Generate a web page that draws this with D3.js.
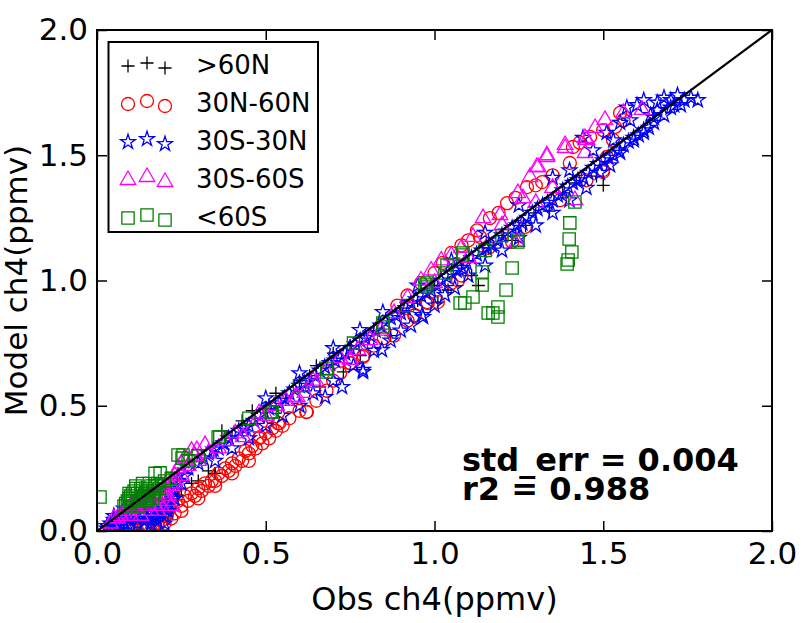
<!DOCTYPE html>
<html><head><meta charset="utf-8">
<script src="https://cdnjs.cloudflare.com/ajax/libs/d3/7.8.5/d3.min.js"></script>
<style>body{margin:0;background:#fff}svg{display:block;font-family:"DejaVu Sans",sans-serif}</style>
</head><body><svg id="c" width="807" height="623"></svg>
<script>
const tickValues = [0.0, 0.5, 1.0, 1.5, 2.0];
const tickLabels = ["0.0", "0.5", "1.0", "1.5", "2.0"];
const seriesNames = [">60N", "30N-60N", "30S-30N", "30S-60S", "<60S"];
const seriesColors = ["#000000", "#ff0000", "#0000ff", "#ff00ff", "#008000"];
const xLabel = "Obs ch4(ppmv)";
const yLabel = "Model ch4(ppmv)";
const statLines = ["std_err = 0.004", "r2 = 0.988"];

// >60N
const n60Obs = [0.05,0.08,0.1,0.12,0.15,0.18,0.2,0.22,0.24,0.25,0.28,0.3,0.33,0.35,0.37,0.4,0.43,0.46,0.5,0.53,0.56,0.6,0.63,0.65,0.66,0.7,0.73,0.75,0.78,0.82,0.87,0.9,0.95,1.0,1.01,1.04,1.08,1.11,1.13,1.16,1.2,1.23,1.27,1.3,1.34,1.38,1.42,1.48,1.5,0.237,0.35];
const n60Mod = [0.05,0.07,0.1,0.13,0.13,0.1,0.12,0.14,0.14,0.17,0.19,0.2,0.24,0.23,0.4,0.37,0.44,0.48,0.49,0.55,0.53,0.6,0.62,0.66,0.575,0.71,0.635,0.74,0.7,0.8,0.78,0.89,0.92,0.98,0.914,0.962,1.06,1.02,0.98,1.13,1.18,1.16,1.22,1.27,1.277,1.35,1.39,1.417,1.38,0.144,0.23];

// 30N-60N
const n30Obs = [0.03,0.05,0.07,0.09,0.11,0.13,0.15,0.17,0.19,0.2,0.21,0.22,0.24,0.26,0.28,0.3,0.32,0.34,0.36,0.38,0.4,0.42,0.44,0.46,0.48,0.5,0.52,0.54,0.57,0.6,0.62,0.65,0.68,0.7,0.72,0.75,0.79,0.82,0.85,0.88,0.92,0.94,0.98,1.01,1.05,1.08,
  0.25,0.27,0.29,0.31,0.33,0.35,0.37,0.39,0.41,0.43,0.45,0.47,0.49,0.51,0.53,0.55,0.207,0.18,
  0.04,0.06,0.08,0.1,0.12,0.14,0.16,0.18,0.2,0.22,0.23,0.25,0.3,0.35,0.4,0.45,
  0.89,0.92,0.96,1.0,1.025,1.05,1.08,1.1,1.126,1.164,1.19,1.215,1.24,1.274,1.3,1.319,1.35,1.401,1.41,1.43,1.461,1.5,1.535,1.55,1.56,
  1.135,1.23,1.268,1.372,1.499,1.5,1.511,1.529,1.16,1.45,1.07,0.978,0.942,0.788,0.75,0.536,0.483,0.622];
const n30Mod = [0.01,0.01,0.02,0.01,0.02,0.01,0.02,0.03,0.04,0.06,0.08,0.1,0.12,0.14,0.15,0.17,0.19,0.2,0.23,0.25,0.27,0.29,0.32,0.34,0.37,0.39,0.41,0.43,0.45,0.48,0.475,0.52,0.56,0.6,0.63,0.67,0.7,0.74,0.77,0.78,0.84,0.86,0.91,0.914,0.99,1.02,
  0.1,0.12,0.14,0.16,0.18,0.2,0.22,0.24,0.26,0.28,0.31,0.33,0.35,0.37,0.4,0.42,0.064,0.03,
  0.0,0.02,0.0,0.02,0.0,0.02,0.0,0.02,0.03,0.05,0.07,0.08,0.13,0.18,0.23,0.28,
  0.9,0.94,0.99,1.03,1.07,1.11,1.14,1.16,1.2,1.249,1.27,1.309,1.33,1.373,1.38,1.393,1.42,1.469,1.533,1.55,1.573,1.6,1.613,1.669,1.64,
  1.174,1.154,1.214,1.321,1.433,1.441,1.493,1.561,1.13,1.4,1.0,0.914,0.862,0.695,0.67,0.43,0.375,0.475];

// 30S-30N
const eqObs = [0.03,0.06,0.09,0.12,0.15,0.18,0.21,0.24,0.27,0.3,0.33,0.36,0.39,0.42,0.45,0.48,0.51,0.54,0.57,0.6,0.63,0.66,0.69,0.72,0.75,0.78,0.81,0.84,0.87,0.9,0.93,0.96,0.99,1.02,1.05,1.08,1.11,1.14,1.17,1.2,1.23,1.26,1.29,1.32,1.35,1.38,1.41,1.44,1.47,1.5,1.53,1.56,1.59,1.62,1.65,1.68,1.71,
  0.315,0.345,0.375,0.405,0.435,0.465,0.495,0.525,0.555,0.585,0.615,0.645,0.675,0.705,0.735,0.765,0.795,0.825,0.855,0.885,0.915,0.945,0.975,1.005,1.035,1.065,1.095,1.125,1.155,1.185,1.215,1.245,1.275,1.305,1.335,1.365,1.395,1.425,1.455,1.485,1.515,1.545,1.575,1.605,1.635,
  0.04,0.05,0.07,0.08,0.1,0.1,0.12,0.13,0.14,0.15,0.16,0.17,0.18,0.19,0.2,0.21,0.22,0.23,0.25,0.08,0.06,0.12,0.16,0.18,0.2,
  0.03,0.05,0.07,0.09,0.11,0.13,0.15,0.17,0.19,0.21,0.23,0.05,0.07,0.09,0.11,0.13,0.15,0.17,0.19,0.21,0.06,0.1,0.14,0.18,0.22,0.24,0.26,0.2,0.16,0.12,
  0.35,0.4,0.45,0.5,0.55,0.6,0.64,0.676,0.7,0.726,0.76,0.788,0.788,0.82,0.844,0.87,0.9,0.93,0.963,0.966,1.0,1.031,1.06,1.1,1.15,1.2,1.25,1.3,1.35,1.4,1.45,1.49,1.52,1.55,1.59,1.62,1.65,
  0.779,0.847,0.7,0.6,0.5,0.95,1.05,1.15,1.25,1.35,1.4,1.44,1.47,1.51,1.55,1.57,1.6,1.62,1.66,1.68,1.7,1.72,1.74,1.76,1.78,1.7,1.73,1.66,1.64,1.58,1.53];
const eqMod = [0.02,0.04,0.07,0.1,0.13,0.16,0.18,0.22,0.25,0.27,0.31,0.33,0.37,0.4,0.42,0.46,0.49,0.51,0.55,0.58,0.6,0.64,0.67,0.69,0.73,0.76,0.78,0.82,0.85,0.87,0.91,0.94,0.96,1.0,1.03,1.05,1.09,1.12,1.14,1.18,1.21,1.23,1.27,1.3,1.32,1.36,1.39,1.41,1.45,1.48,1.5,1.54,1.57,1.59,1.63,1.66,1.7,
  0.29,0.325,0.35,0.385,0.41,0.44,0.475,0.5,0.53,0.565,0.59,0.62,0.655,0.68,0.71,0.745,0.77,0.8,0.835,0.86,0.89,0.925,0.95,0.98,1.015,1.04,1.07,1.105,1.13,1.16,1.195,1.22,1.25,1.285,1.31,1.34,1.375,1.4,1.43,1.465,1.49,1.52,1.555,1.58,1.61,
  0.03,0.06,0.05,0.09,0.04,0.08,0.05,0.09,0.04,0.07,0.11,0.05,0.08,0.12,0.06,0.1,0.14,0.16,0.19,0.03,0.02,0.03,0.03,0.04,0.03,
  0.01,0.03,0.03,0.05,0.06,0.07,0.05,0.09,0.1,0.12,0.13,0.045,0.06,0.03,0.09,0.11,0.1,0.06,0.07,0.08,0.05,0.11,0.12,0.14,0.17,0.2,0.22,0.1,0.02,0.02,
  0.28,0.33,0.37,0.42,0.46,0.5,0.55,0.535,0.6,0.575,0.66,0.643,0.635,0.72,0.723,0.76,0.8,0.82,0.862,0.854,0.9,0.942,0.97,1.02,1.06,1.12,1.17,1.22,1.27,1.32,1.37,1.43,1.46,1.51,1.56,1.6,1.65,
  0.802,0.874,0.73,0.63,0.53,0.98,1.08,1.19,1.3,1.41,1.44,1.57,1.52,1.59,1.63,1.69,1.7,1.72,1.71,1.73,1.72,1.74,1.72,1.73,1.72,1.69,1.7,1.68,1.66,1.64,1.56];

// 30S-60S
const s30Obs = [0.04,0.06,0.08,0.1,0.1,0.12,0.12,0.14,0.15,0.16,0.17,0.18,0.19,0.2,0.21,0.22,0.23,0.24,0.25,0.27,0.29,0.296,0.32,0.3,0.33,0.36,0.38,0.41,0.433,0.462,0.48,0.5,0.53,0.56,0.587,0.593,0.616,0.64,0.652,0.68,0.72,0.75,0.773,0.809,0.84,0.88,0.92,0.96,0.99,1.02,1.05,1.08,1.114,1.144,1.194,1.244,1.247,1.262,1.283,1.303,1.307,1.333,1.333,1.387,1.387,1.416,1.446,1.446,1.452,1.476,1.505,1.56,1.615,1.2,1.3,1.0,1.1,1.35,0.13,0.16,0.19,0.21,
  0.05,0.07,0.09,0.11,0.13,0.15,0.17,0.19,0.21,0.23,0.25,0.26,0.28,0.11,0.14,0.17,0.2,0.23,0.18,0.22];
const s30Mod = [0.03,0.05,0.07,0.06,0.1,0.08,0.12,0.1,0.14,0.12,0.16,0.13,0.18,0.16,0.2,0.18,0.22,0.25,0.27,0.26,0.3,0.323,0.343,0.28,0.31,0.33,0.36,0.39,0.375,0.415,0.47,0.46,0.5,0.52,0.535,0.535,0.551,0.6,0.591,0.64,0.69,0.683,0.723,0.762,0.8,0.87,0.93,1.0,1.04,1.08,1.1,1.13,1.174,1.249,1.261,1.154,1.349,1.329,1.413,1.453,1.453,1.5,1.493,1.541,1.529,1.321,1.509,1.569,1.561,1.609,1.641,1.669,1.681,1.22,1.31,0.99,1.09,1.37,0.06,0.08,0.1,0.12,
  0.05,0.06,0.08,0.09,0.11,0.1,0.11,0.15,0.14,0.19,0.22,0.29,0.32,0.11,0.13,0.14,0.17,0.2,0.08,0.1];

// <60S
const s60Obs = [0.009,0.08,0.09,0.1,0.1,0.11,0.12,0.12,0.13,0.13,0.14,0.15,0.15,0.16,0.17,0.172,0.187,0.18,0.2,0.22,0.24,0.255,0.252,0.27,0.3,0.364,0.359,0.45,0.513,0.519,0.6,0.681,0.681,0.76,0.847,0.847,0.92,0.972,0.978,0.978,1.031,1.037,1.084,1.084,1.076,1.09,1.114,1.141,1.141,1.159,1.173,1.188,1.188,1.212,1.23,1.247,1.247,1.393,1.396,1.407,1.399,1.401,1.416,1.15,1.2,
  0.085,0.095,0.105,0.115,0.125,0.135,0.145,0.155,0.165,0.175,0.185,0.105,0.125,0.145,0.165,0.185,0.095,0.115,0.135,0.155];
const s60Mod = [0.136,0.1,0.12,0.14,0.1,0.16,0.12,0.15,0.17,0.11,0.14,0.16,0.12,0.18,0.15,0.23,0.232,0.19,0.2,0.21,0.303,0.303,0.291,0.28,0.3,0.375,0.375,0.45,0.475,0.475,0.58,0.635,0.65,0.75,0.814,0.83,0.9,0.982,0.974,0.99,1.03,1.062,1.11,1.102,0.91,0.91,0.934,0.982,1.034,0.87,0.87,0.894,0.854,0.962,1.05,1.154,1.162,1.066,1.082,1.114,1.166,1.23,1.313,1.12,1.18,
  0.11,0.13,0.15,0.17,0.13,0.15,0.17,0.14,0.16,0.18,0.17,0.12,0.1,0.12,0.13,0.15,0.15,0.18,0.19,0.19];

const seriesObs = [n60Obs, n30Obs, eqObs, s30Obs, s60Obs];
const seriesMod = [n60Mod, n30Mod, eqMod, s30Mod, s60Mod];

const svg = d3.select("#c");
const L = 97, R = 772, T = 30, B = 531;
const x = d3.scaleLinear().domain([0, 2]).range([L, R]);
const y = d3.scaleLinear().domain([0, 2]).range([B, T]);

const sym = [
  "M-6.5,0H6.5M0,-6.5V6.5",
  d3.symbol(d3.symbolCircle, 133)(),
  d3.symbol(d3.symbolStar, 68)(),
  d3.symbol(d3.symbolTriangle, 105)(),
  d3.symbol(d3.symbolSquare, 150)()
];

svg.append("defs").append("clipPath").attr("id", "clip")
  .append("rect").attr("x", L).attr("y", T).attr("width", R - L).attr("height", B - T);

const plot = svg.append("g").attr("clip-path", "url(#clip)");
seriesObs.forEach((obs, i) => {
  const pts = obs.map((v, j) => [v, seriesMod[i][j]]);
  plot.append("g").selectAll("path").data(pts).join("path")
    .attr("d", sym[i])
    .attr("transform", d => `translate(${x(d[0])},${y(d[1])})`)
    .attr("fill", "none").attr("stroke", seriesColors[i]).attr("stroke-width", 1.3);
});

plot.append("line").attr("x1", x(0)).attr("y1", y(0)).attr("x2", x(2)).attr("y2", y(2))
  .attr("stroke", "#000").attr("stroke-width", 2.2);

// axes
const fmt = (d) => tickLabels[tickValues.indexOf(d)];
const axB = svg.append("g").attr("transform", `translate(0,${B})`)
  .call(d3.axisBottom(x).tickValues(tickValues).tickFormat(fmt).tickSizeInner(-10).tickSizeOuter(0).tickPadding(11));
const axL = svg.append("g").attr("transform", `translate(${L},0)`)
  .call(d3.axisLeft(y).tickValues(tickValues).tickFormat(fmt).tickSizeInner(-10).tickSizeOuter(0).tickPadding(9));
const axT = svg.append("g").attr("transform", `translate(0,${T})`)
  .call(d3.axisTop(x).tickValues(tickValues).tickFormat("").tickSizeInner(-10).tickSizeOuter(0));
const axR = svg.append("g").attr("transform", `translate(${R},0)`)
  .call(d3.axisRight(y).tickValues(tickValues).tickFormat("").tickSizeInner(-10).tickSizeOuter(0));
[axB, axL, axT, axR].forEach(a => {
  a.select(".domain").remove();
  a.selectAll("line").attr("stroke", "#000").attr("stroke-width", 1.5);
  a.selectAll("text").attr("font-size", 31).attr("fill", "#000").attr("font-family", "DejaVu Sans");
});
svg.append("rect").attr("x", L).attr("y", T).attr("width", R - L).attr("height", B - T)
  .attr("fill", "none").attr("stroke", "#000").attr("stroke-width", 2);

svg.append("text").attr("x", (L + R) / 2).attr("y", 610).attr("text-anchor", "middle")
  .attr("font-size", 32).text(xLabel);
svg.append("text").attr("transform", `translate(27,${(T + B) / 2}) rotate(-90)`).attr("text-anchor", "middle")
  .attr("font-size", 31).text(yLabel);

// stats
statLines.forEach((s, i) => {
  svg.append("text").attr("x", 462).attr("y", 471 + i * 29).attr("font-size", 32)
    .attr("font-weight", "bold").text(s);
});

// legend
const lg = svg.append("g");
lg.append("rect").attr("x", 108.5).attr("y", 42).attr("width", 209.5).attr("height", 190)
  .attr("fill", "#fff").attr("stroke", "#000").attr("stroke-width", 2);
const rowY = [65, 103, 141, 179, 217];
const mX = [128, 147, 165], mDy = [1, -2, 3];
seriesNames.forEach((n, i) => {
  mX.forEach((mx, k) => {
    lg.append("path").attr("d", sym[i]).attr("transform", `translate(${mx},${rowY[i] + mDy[k]})`)
      .attr("fill", "none").attr("stroke", seriesColors[i]).attr("stroke-width", 1.3);
  });
  lg.append("text").attr("x", 196).attr("y", rowY[i]).attr("dy", "0.36em").attr("font-size", 26).text(n);
});
</script></body></html>
